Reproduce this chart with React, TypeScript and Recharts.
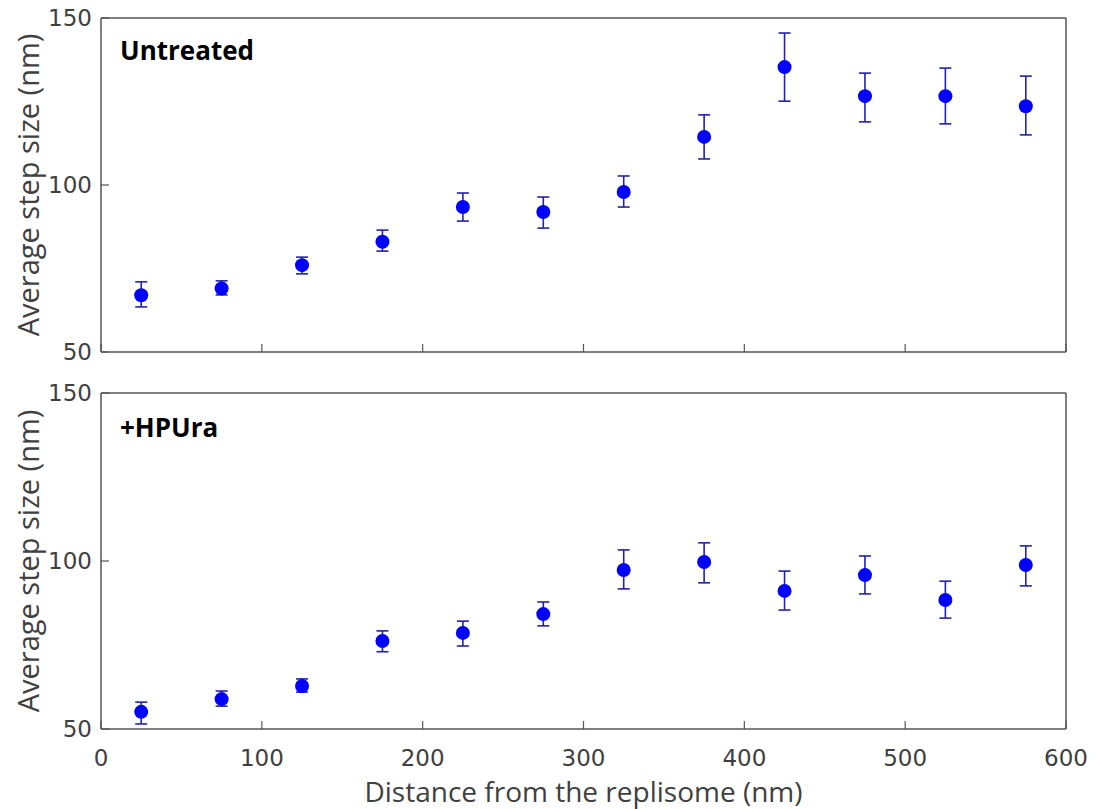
import React from "react";
import {
  ScatterChart,
  Scatter,
  XAxis,
  YAxis,
  ErrorBar,
} from "recharts";

// distances along the DNA (nm)
const distances = [25, 75, 125, 175, 225, 275, 325, 375, 425, 475, 525, 575];

// untreated: mean step size and lower/upper ends of the error bars
const untreatedMean = [67, 69, 76, 83, 93.4, 91.9, 97.9, 114.4, 135.3, 126.6, 126.6, 123.6];
const untreatedLow = [63.5, 67.1, 73.4, 80.2, 89.2, 87.1, 93.4, 107.8, 125.1, 118.9, 118.3, 115];
const untreatedHigh = [71, 71.3, 78.4, 86.5, 97.6, 96.4, 102.7, 121, 145.5, 133.5, 135, 132.6];

// +HPUra
const hpuraMean = [55.1, 58.9, 62.8, 76.2, 78.6, 84.2, 97.3, 99.7, 91.1, 95.8, 88.4, 98.8];
const hpuraLow = [51.5, 56.8, 61, 73, 74.7, 80.7, 91.7, 93.5, 85.4, 90.2, 83, 92.6];
const hpuraHigh = [58, 61.3, 64.9, 79.2, 82.1, 87.8, 103.3, 105.4, 97, 101.5, 94, 104.5];

const xTicks = [0, 100, 200, 300, 400, 500, 600];
const yTicks = [50, 100, 150];

const frame = "#555555";
const textColor = "#404040";
const TICK = 8; // inward tick length
const X_GAP = 20;
const Y_GAP = 9;
const BOTTOM_TOP = 375; // where the lower panel starts on the page

const build = (mean: number[], low: number[], high: number[]) =>
  distances.map((d, i) => ({
    x: d,
    y: mean[i],
    err: [mean[i] - low[i], high[i] - mean[i]],
  }));

const untreatedData = build(untreatedMean, untreatedLow, untreatedHigh);
const hpuraData = build(hpuraMean, hpuraLow, hpuraHigh);

const dot = (p: any) => <circle cx={p.cx} cy={p.cy} r={7} fill="#0000ff" />;

// matlab-style ticks pointing into the plot box
const bottomTick = (showLabel: boolean) => (p: any) => {
  const axisY = p.y - X_GAP;
  return (
    <g>
      <line x1={p.x} x2={p.x} y1={axisY} y2={axisY - TICK} stroke={frame} strokeWidth={1.2} />
      {showLabel && (
        <text
          x={p.x}
          y={p.y}
          dy="0.75em"
          textAnchor="middle"
          fill={textColor}
          fontSize={23}
          fontFamily="DejaVu Sans"
        >
          {p.payload.value}
        </text>
      )}
    </g>
  );
};

const topTick = (p: any) => (
  <line x1={p.x} x2={p.x} y1={p.y} y2={p.y + TICK} stroke={frame} strokeWidth={1.2} />
);

const leftTick = (p: any) => {
  const axisX = p.x + Y_GAP;
  return (
    <g>
      <line x1={axisX} x2={axisX + TICK} y1={p.y} y2={p.y} stroke={frame} strokeWidth={1.2} />
      <text
        x={p.x}
        y={p.y}
        dy="0.36em"
        textAnchor="end"
        fill={textColor}
        fontSize={23}
        fontFamily="DejaVu Sans"
      >
        {p.payload.value}
      </text>
    </g>
  );
};

const rightTick = (p: any) => (
  <line x1={p.x} x2={p.x - TICK} y1={p.y} y2={p.y} stroke={frame} strokeWidth={1.2} />
);

const yTitle = (props: any) => {
  const vb = props.viewBox || {};
  const cy = vb.y + vb.height / 2;
  return (
    <text
      x={27}
      y={cy}
      transform={`rotate(-90, 27, ${cy})`}
      textAnchor="middle"
      dominantBaseline="central"
      fill={textColor}
      fontSize={29}
      fontFamily="Open Sans"
    >
      Average step size (nm)
    </text>
  );
};

const xTitle = (props: any) => {
  const vb = props.viewBox || {};
  return (
    <text
      x={vb.x + vb.width / 2}
      y={802 - BOTTOM_TOP}
      textAnchor="middle"
      fill={textColor}
      fontSize={28}
      fontFamily="Open Sans"
    >
      Distance from the replisome (nm)
    </text>
  );
};

interface PanelProps {
  data: { x: number; y: number; err: number[] }[];
  height: number;
  bottomHeight: number;
  showX: boolean;
}

function Panel({ data, height, bottomHeight, showX }: PanelProps) {
  return (
    <ScatterChart
      width={1096}
      height={height}
      margin={{ top: 17, right: 29, left: 0, bottom: 0 }}
    >
      <XAxis
        xAxisId="b"
        type="number"
        dataKey="x"
        domain={[0, 600]}
        ticks={xTicks}
        height={bottomHeight}
        axisLine={{ stroke: frame, strokeWidth: 1.5 }}
        tickLine={false}
        tickSize={0}
        tickMargin={X_GAP}
        tick={bottomTick(showX)}
        interval={0}
        label={showX ? { content: xTitle } : undefined}
      />
      <XAxis
        xAxisId="t"
        orientation="top"
        type="number"
        dataKey="x"
        domain={[0, 600]}
        ticks={xTicks}
        height={1}
        axisLine={{ stroke: frame, strokeWidth: 1.5 }}
        tickLine={false}
        tickSize={0}
        tickMargin={0}
        tick={topTick}
        interval={0}
      />
      <YAxis
        yAxisId="l"
        type="number"
        dataKey="y"
        domain={[50, 150]}
        ticks={yTicks}
        width={101}
        axisLine={{ stroke: frame, strokeWidth: 1.5 }}
        tickLine={false}
        tickSize={0}
        tickMargin={Y_GAP}
        tick={leftTick}
        interval={0}
        label={{ content: yTitle }}
      />
      <YAxis
        yAxisId="r"
        orientation="right"
        type="number"
        dataKey="y"
        domain={[50, 150]}
        ticks={yTicks}
        width={1}
        axisLine={{ stroke: frame, strokeWidth: 1.5 }}
        tickLine={false}
        tickSize={0}
        tickMargin={0}
        tick={rightTick}
        interval={0}
      />
      <Scatter
        data={data}
        xAxisId="b"
        yAxisId="l"
        shape={dot}
        isAnimationActive={false}
      >
        <ErrorBar
          dataKey="err"
          direction="y"
          width={6}
          stroke="#2222aa"
          strokeWidth={1.6}
          isAnimationActive={false}
        />
      </Scatter>
    </ScatterChart>
  );
}

const panelLabel: React.CSSProperties = {
  position: "absolute",
  left: 120,
  fontFamily: "Open Sans",
  fontWeight: 700,
  fontSize: 26,
  color: "#000",
  lineHeight: "30px",
};

export default function App() {
  return (
    <div
      style={{
        position: "absolute",
        left: 0,
        top: 0,
        width: 1096,
        height: 809,
        background: "#fff",
      }}
    >
      <div style={{ position: "absolute", left: 0, top: 0 }}>
        <Panel data={untreatedData} height={BOTTOM_TOP} bottomHeight={23} showX={false} />
      </div>
      <div style={{ position: "absolute", left: 0, top: BOTTOM_TOP }}>
        <Panel data={hpuraData} height={809 - BOTTOM_TOP} bottomHeight={80} showX={true} />
      </div>
      <div style={{ ...panelLabel, top: 35 }}>Untreated</div>
      <div style={{ ...panelLabel, top: 412 }}>+HPUra</div>
    </div>
  );
}
